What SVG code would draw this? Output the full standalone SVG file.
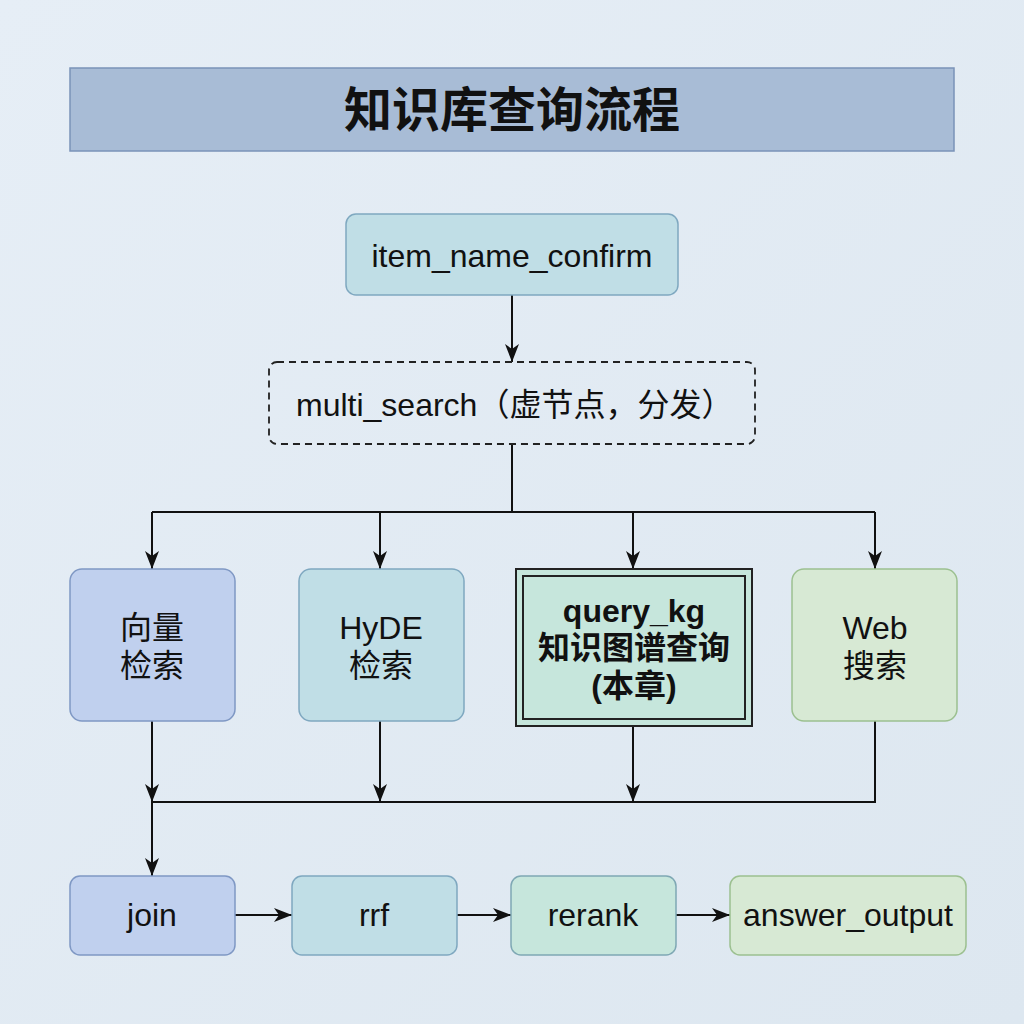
<svg xmlns="http://www.w3.org/2000/svg" width="1024" height="1024" viewBox="0 0 1024 1024">
<defs>
<linearGradient id="bg" x1="0" y1="0" x2="1" y2="1">
<stop offset="0" stop-color="#e6eef6"/>
<stop offset="1" stop-color="#dde7f0"/>
</linearGradient>
<marker id="arrB" viewBox="0 0 18 16" refX="18" refY="8" markerWidth="18" markerHeight="16" markerUnits="userSpaceOnUse" orient="auto">
<path d="M0,1 L18,8 L0,15 L5,8 z" fill="#111"/>
</marker>
</defs>
<style>
text{font-family:"Liberation Sans","Noto Sans CJK SC",sans-serif;fill:#111;text-anchor:middle;dominant-baseline:central}
.t{font-size:32px}
.b{font-weight:bold}
.blue{fill:#c0d0ee;stroke:#7f98c4;stroke-width:1.5}
.teal{fill:#c0dee6;stroke:#7fa8c0;stroke-width:1.5}
.mint{fill:#c6e6dc;stroke:#7fa8b4;stroke-width:1.5}
.green{fill:#d7e9d4;stroke:#9cc090;stroke-width:1.5}
.ln{fill:none;stroke:#111;stroke-width:2}
</style>
<rect width="1024" height="1024" fill="url(#bg)"/>
<g id="title">
<rect x="70" y="68" width="884" height="83" fill="#a8bcd6" stroke="#7a93b8" stroke-width="1.5"/>
<text x="512" y="110" class="b" style="font-size:48px">知识库查询流程</text>
</g>
<g id="connectors">
<path class="ln" d="M512,295 V362" marker-end="url(#arrB)"/>
<path class="ln" d="M512,444 V512 M152,512 H875"/>
<path class="ln" d="M152,512 V569" marker-end="url(#arrB)"/>
<path class="ln" d="M380,512 V569" marker-end="url(#arrB)"/>
<path class="ln" d="M633,512 V569" marker-end="url(#arrB)"/>
<path class="ln" d="M875,512 V569" marker-end="url(#arrB)"/>
<path class="ln" d="M152,721 V802" marker-end="url(#arrB)"/>
<path class="ln" d="M380,721 V802" marker-end="url(#arrB)"/>
<path class="ln" d="M633,726 V802" marker-end="url(#arrB)"/>
<path class="ln" d="M875,721 V802 H152"/>
<path class="ln" d="M152,802 V876" marker-end="url(#arrB)"/>
<path class="ln" d="M235,915 H292" marker-end="url(#arrB)"/>
<path class="ln" d="M457,915 H511" marker-end="url(#arrB)"/>
<path class="ln" d="M676,915 H730" marker-end="url(#arrB)"/>
</g>
<g id="item_name_confirm">
<rect x="346" y="214" width="332" height="81" rx="10" class="teal"/>
<text x="512" y="256" class="t">item_name_confirm</text>
</g>
<g id="multi_search">
<rect x="269" y="362" width="486" height="82" rx="8" fill="none" stroke="#222" stroke-width="1.8" stroke-dasharray="7,5"/>
<text x="296" y="405" class="t" style="text-anchor:start">multi_search（虚节点，分发）</text>
</g>
<g id="vector">
<rect x="70" y="569" width="165" height="152" rx="12" class="blue"/>
<text x="152" y="628" class="t">向量</text>
<text x="152" y="666" class="t">检索</text>
</g>
<g id="hyde">
<rect x="299" y="569" width="165" height="152" rx="12" class="teal"/>
<text x="381" y="628" class="t">HyDE</text>
<text x="381" y="666" class="t">检索</text>
</g>
<g id="query_kg">
<rect x="516" y="569" width="236" height="157" class="mint" style="stroke:#222;stroke-width:2"/>
<rect x="523" y="576" width="222" height="143" fill="none" stroke="#222" stroke-width="2"/>
<text x="634" y="611" class="t b">query_kg</text>
<text x="634" y="648" class="t b">知识图谱查询</text>
<text x="634" y="686" class="t b">(本章)</text>
</g>
<g id="web">
<rect x="792" y="569" width="165" height="152" rx="12" class="green"/>
<text x="875" y="628" class="t">Web</text>
<text x="875" y="666" class="t">搜索</text>
</g>
<g id="join">
<rect x="70" y="876" width="165" height="79" rx="10" class="blue"/>
<text x="152" y="915" class="t">join</text>
</g>
<g id="rrf">
<rect x="292" y="876" width="165" height="79" rx="10" class="teal"/>
<text x="374" y="915" class="t">rrf</text>
</g>
<g id="rerank">
<rect x="511" y="876" width="165" height="79" rx="10" class="mint"/>
<text x="593" y="915" class="t">rerank</text>
</g>
<g id="answer_output">
<rect x="730" y="876" width="236" height="79" rx="10" class="green"/>
<text x="848" y="915" class="t">answer_output</text>
</g>
</svg>
